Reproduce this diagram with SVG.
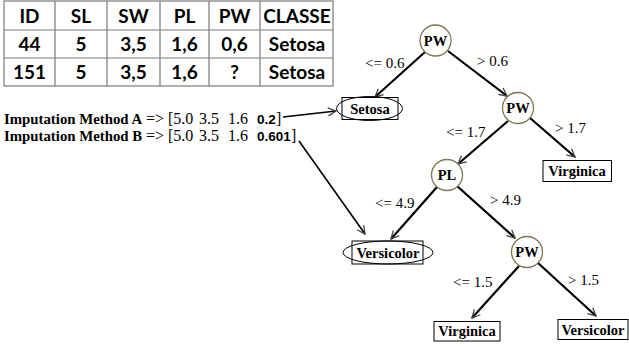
<svg xmlns="http://www.w3.org/2000/svg" width="629" height="347" viewBox="0 0 629 347">
<style>
.tb{fill:none;stroke:#7a7a7a;stroke-width:1.2}
.th{font-family:Lato,"Open Sans",sans-serif;font-weight:bold;font-size:19px;text-anchor:middle;fill:#000}
.imp{font-family:"Liberation Serif",serif;font-size:16px;fill:#000}
.impb{font-weight:bold;font-size:14.8px}
.num{font-family:"Liberation Sans",sans-serif;font-weight:bold;font-size:13.5px}
.node{fill:#fff;stroke:#7d7650;stroke-width:1.3}
.nl{font-family:"Liberation Serif",serif;font-weight:bold;font-size:14.5px;text-anchor:middle;fill:#000}
.leaf{fill:#fff;stroke:#000;stroke-width:1}
.lo{fill:none;stroke:#000;stroke-width:1}
.el{font-family:"Liberation Serif",serif;font-size:15px;fill:#000}
.edge{stroke:#000;stroke-width:2.2;fill:none;marker-end:url(#ah)}
</style>
<defs>
<marker id="ah" viewBox="-10 -6 12 12" refX="0" refY="0" markerWidth="12" markerHeight="12" markerUnits="userSpaceOnUse" orient="auto">
<path d="M-8,-4 L0,0 L-8,4" fill="none" stroke="#444" stroke-width="1.3"/>
</marker>
</defs>
<rect width="629" height="347" fill="#fff"/>
<g id="table">
<rect class="tb" x="4" y="1" width="329" height="85"/>
<line class="tb" x1="4" y1="30" x2="333" y2="30"/>
<line class="tb" x1="4" y1="58" x2="333" y2="58"/>
<line class="tb" x1="55" y1="1" x2="55" y2="86"/>
<line class="tb" x1="107" y1="1" x2="107" y2="86"/>
<line class="tb" x1="160" y1="1" x2="160" y2="86"/>
<line class="tb" x1="209" y1="1" x2="209" y2="86"/>
<line class="tb" x1="260" y1="1" x2="260" y2="86"/>
<text class="th" x="29.5" y="22.5">ID</text>
<text class="th" x="81" y="22.5">SL</text>
<text class="th" x="133.5" y="22.5">SW</text>
<text class="th" x="184.5" y="22.5">PL</text>
<text class="th" x="234.5" y="22.5">PW</text>
<text class="th" x="297" y="22.5">CLASSE</text>
<text class="th" x="29.5" y="50.5">44</text>
<text class="th" x="81" y="50.5">5</text>
<text class="th" x="133.5" y="50.5">3,5</text>
<text class="th" x="184.5" y="50.5">1,6</text>
<text class="th" x="234.5" y="50.5">0,6</text>
<text class="th" x="297" y="50.5">Setosa</text>
<text class="th" x="29.5" y="78.5">151</text>
<text class="th" x="81" y="78.5">5</text>
<text class="th" x="133.5" y="78.5">3,5</text>
<text class="th" x="184.5" y="78.5">1,6</text>
<text class="th" x="234.5" y="78.5">?</text>
<text class="th" x="297" y="78.5">Setosa</text>
</g>
<g id="imputationA">
<text class="imp" y="124"><tspan x="4" class="impb">Imputation Method A</tspan><tspan x="146">=&gt;</tspan><tspan x="168">[5.0</tspan><tspan x="199">3.5</tspan><tspan x="228">1.6</tspan><tspan x="257" class="num">0.2</tspan><tspan x="276">]</tspan></text>
</g>
<g id="imputationB">
<text class="imp" y="141"><tspan x="4" class="impb">Imputation Method B</tspan><tspan x="146">=&gt;</tspan><tspan x="168">[5.0</tspan><tspan x="199">3.5</tspan><tspan x="228">1.6</tspan><tspan x="257" class="num">0.601</tspan><tspan x="291">]</tspan></text>
</g>
<g id="connectors">
<line class="edge" x1="425" y1="52" x2="375" y2="97"/>
<line class="edge" x1="448" y1="51" x2="507" y2="96"/>
<line class="edge" x1="508" y1="121" x2="458" y2="164"/>
<line class="edge" x1="530" y1="118" x2="575" y2="157"/>
<line class="edge" x1="437" y1="187" x2="391" y2="239"/>
<line class="edge" x1="457" y1="186" x2="515" y2="238"/>
<line class="edge" x1="519" y1="266" x2="472" y2="318"/>
<line class="edge" x1="538" y1="263" x2="596" y2="316"/>
<line class="edge" x1="283" y1="117" x2="336" y2="111" style="stroke-width:1.6"/>
<line class="edge" x1="299" y1="141" x2="365" y2="234" style="stroke-width:1.6"/>
<text class="el" x="365" y="68">&lt;= 0.6</text>
<text class="el" x="477" y="66">&gt; 0.6</text>
<text class="el" x="446" y="137">&lt;= 1.7</text>
<text class="el" x="555" y="133">&gt; 1.7</text>
<text class="el" x="375" y="208">&lt;= 4.9</text>
<text class="el" x="490" y="205">&gt; 4.9</text>
<text class="el" x="453" y="287">&lt;= 1.5</text>
<text class="el" x="568" y="285">&gt; 1.5</text>
</g>
<g id="root">
<circle class="node" cx="435.5" cy="40.5" r="15.5"/>
<text class="nl" x="435.5" y="45.5">PW</text>
</g>
<g id="pw2">
<circle class="node" cx="518" cy="108" r="15.5"/>
<text class="nl" x="518" y="113">PW</text>
</g>
<g id="pl">
<circle class="node" cx="447" cy="175" r="15.5"/>
<text class="nl" x="447" y="180">PL</text>
</g>
<g id="pw3">
<circle class="node" cx="527" cy="252" r="15.5"/>
<text class="nl" x="527" y="257">PW</text>
</g>
<g id="setosa">
<ellipse class="lo" cx="369.5" cy="108.5" rx="33" ry="12"/>
<rect class="lo" x="342" y="97.5" width="56" height="22"/>
<text class="nl" x="370" y="113.5">Setosa</text>
</g>
<g id="versicolor1">
<ellipse class="lo" cx="388" cy="252.5" rx="45" ry="11.5"/>
<rect class="lo" x="352" y="241" width="71" height="23"/>
<text class="nl" x="388" y="257.5">Versicolor</text>
</g>
<g id="virginica1">
<rect class="leaf" x="543" y="160.5" width="68.5" height="21"/>
<text class="nl" x="577" y="176">Virginica</text>
</g>
<g id="virginica2">
<rect class="leaf" x="434" y="321.5" width="66" height="19.5"/>
<text class="nl" x="467" y="336">Virginica</text>
</g>
<g id="versicolor2">
<rect class="leaf" x="558" y="319.5" width="70" height="20"/>
<text class="nl" x="593" y="334.5">Versicolor</text>
</g>
</svg>
